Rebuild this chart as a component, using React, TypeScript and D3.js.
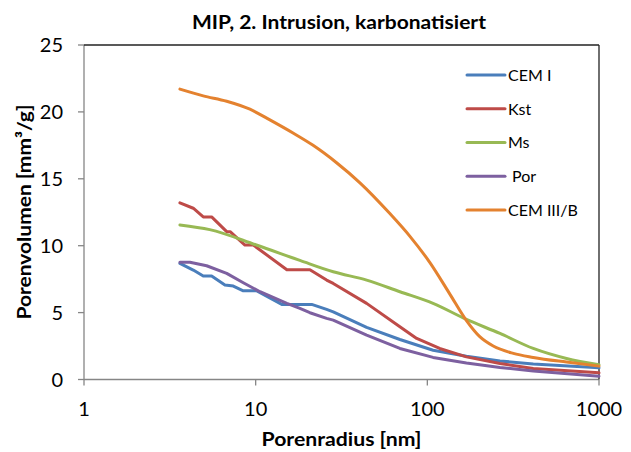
import React from "react";
import * as d3 from "d3";

// Pore radius [nm] and cumulative pore volume [mm³/g], per binder
const radiusCemI = [3.62, 4.33, 4.95, 5.54, 6.62, 7.41, 8.47, 10.1, 14.2, 21.2, 25.9, 28.3, 44.3, 69.2, 108, 169, 265, 414, 1000];
const volumeCemI = [8.68, 8.18, 7.73, 7.73, 7.06, 6.98, 6.63, 6.63, 5.61, 5.61, 5.24, 5.06, 3.89, 2.99, 2.19, 1.74, 1.39, 1.15, 0.87];

const radiusKst = [3.62, 4.33, 4.95, 5.54, 6.78, 7.1, 8.66, 9.69, 15.2, 20.7, 25.9, 28.3, 44.3, 69.2, 86.7, 118, 169, 265, 414, 1000];
const volumeKst = [13.2, 12.8, 12.15, 12.15, 11.05, 11.05, 10.05, 10.05, 8.2, 8.2, 7.43, 7.18, 5.69, 3.94, 3.07, 2.32, 1.69, 1.2, 0.82, 0.5];

const radiusMs = [3.62, 5.4, 10.1, 18.1, 28.3, 44.3, 69.2, 108, 169, 265, 414, 647, 1000];
const volumeMs = [11.55, 11.2, 10.05, 8.9, 8.05, 7.43, 6.56, 5.69, 4.49, 3.44, 2.32, 1.57, 1.1];

const radiusPor = [3.62, 4.14, 5.18, 6.78, 8.47, 10.6, 15.2, 18.1, 20.7, 25.9, 28.3, 44.3, 69.2, 108, 169, 265, 414, 1000];
const volumePor = [8.76, 8.76, 8.5, 7.93, 7.23, 6.56, 5.69, 5.31, 4.99, 4.57, 4.44, 3.32, 2.32, 1.65, 1.24, 0.9, 0.64, 0.25];

const radiusCem3 = [3.62, 4.95, 6.78, 9.26, 12.1, 16.6, 21.6, 29.6, 40.5, 60.5, 79.2, 104, 135, 169, 202, 242, 317, 414, 647, 1000];
const volumeCem3 = [21.7, 21.2, 20.8, 20.2, 19.4, 18.4, 17.5, 16.2, 14.7, 12.4, 10.7, 8.7, 6.4, 4.4, 3.2, 2.5, 1.95, 1.65, 1.3, 1.0];

const seriesNames = ["CEM I", "Kst", "Ms", " Por", "CEM III/B"];
const seriesColors = ["#4A7EBB", "#BE4B48", "#98B954", "#7D60A0", "#E4822F"];
const seriesRadius = [radiusCemI, radiusKst, radiusMs, radiusPor, radiusCem3];
const seriesVolume = [volumeCemI, volumeKst, volumeMs, volumePor, volumeCem3];
// stepped measurement series are drawn straight, the smooth ones with a monotone curve
const seriesSmooth = [false, false, true, false, true];

const xTicks = [1, 10, 100, 1000];
const yTicks = [0, 5, 10, 15, 20, 25];

const W = 631;
const H = 452;
const plot = { left: 84, right: 599, top: 45, bottom: 379.5 };
const font = "Lato, 'Open Sans', sans-serif";

export default function App() {
  const x = d3.scaleLog().domain([1, 1000]).range([plot.left, plot.right]);
  const y = d3.scaleLinear().domain([0, 25]).range([plot.bottom, plot.top]);
  const makeLine = (smooth: boolean) =>
    d3
      .line<[number, number]>()
      .x((d) => x(d[0]))
      .y((d) => y(d[1]))
      .curve(smooth ? d3.curveMonotoneX : d3.curveLinear);

  return (
    <svg
      width={W}
      height={H}
      style={{ position: "absolute", left: 0, top: 0, background: "#fff" }}
      fontFamily={font}
    >
      <rect x={0} y={0} width={W} height={H} fill="#fff" />

      {/* title */}
      <text
        x={339}
        y={29.3}
        textAnchor="middle"
        fontSize={18.5}
        fontWeight="bold"
        fill="#000"
        textLength={294}
        lengthAdjust="spacingAndGlyphs"
      >
        MIP, 2. Intrusion, karbonatisiert
      </text>

      {/* axes and plot frame */}
      <line x1={plot.left} x2={plot.left} y1={plot.top} y2={plot.bottom} stroke="#868686" strokeWidth={1.3} />
      <line x1={plot.left} x2={plot.right} y1={plot.bottom} y2={plot.bottom} stroke="#868686" strokeWidth={1.3} />
      <line x1={plot.left} x2={plot.right} y1={plot.top} y2={plot.top} stroke="#222" strokeWidth={1.3} />
      <line x1={plot.right} x2={plot.right} y1={plot.top} y2={plot.bottom} stroke="#222" strokeWidth={1.3} />

      {yTicks.map((t) => (
        <g key={"y" + t}>
          <line x1={plot.left - 6} x2={plot.left} y1={y(t)} y2={y(t)} stroke="#868686" strokeWidth={1.3} />
          <text x={63} y={y(t)} dy="0.36em" textAnchor="end" fontSize={20} fill="#000">
            {t}
          </text>
        </g>
      ))}
      {xTicks.map((t) => (
        <g key={"x" + t}>
          <line x1={x(t)} x2={x(t)} y1={plot.bottom} y2={plot.bottom + 6} stroke="#868686" strokeWidth={1.3} />
          <text x={x(t)} y={415.5} textAnchor="middle" fontSize={20} fill="#000">
            {t}
          </text>
        </g>
      ))}

      {/* axis titles */}
      <text
        x={341.5}
        y={446}
        textAnchor="middle"
        fontSize={18.5}
        fontWeight="bold"
        fill="#000"
        textLength={160}
        lengthAdjust="spacingAndGlyphs"
      >
        Porenradius [nm]
      </text>
      <text
        transform={`translate(30.5, 212) rotate(-90)`}
        textAnchor="middle"
        fontSize={18.5}
        fontWeight="bold"
        fill="#000"
        textLength={215}
        lengthAdjust="spacingAndGlyphs"
      >
        Porenvolumen [mm³/g]
      </text>

      {/* series, later ones drawn on top */}
      {seriesNames.map((name, i) => {
        const pts = seriesRadius[i].map((r, k) => [r, seriesVolume[i][k]] as [number, number]);
        return (
          <path
            key={name}
            d={makeLine(seriesSmooth[i])(pts) || ""}
            fill="none"
            stroke={seriesColors[i]}
            strokeWidth={3}
            strokeLinejoin="round"
            strokeLinecap="round"
          />
        );
      })}

      {/* legend */}
      {seriesNames.map((name, i) => {
        const ly = 75 + i * 33.75;
        return (
          <g key={"lg" + i}>
            <line x1={467} x2={505} y1={ly} y2={ly} stroke={seriesColors[i]} strokeWidth={3} strokeLinecap="round" />
            <text x={508} y={ly} dy="0.36em" fontSize={16} fill="#000" style={{ whiteSpace: "pre" }}>
              {name}
            </text>
          </g>
        );
      })}
    </svg>
  );
}
